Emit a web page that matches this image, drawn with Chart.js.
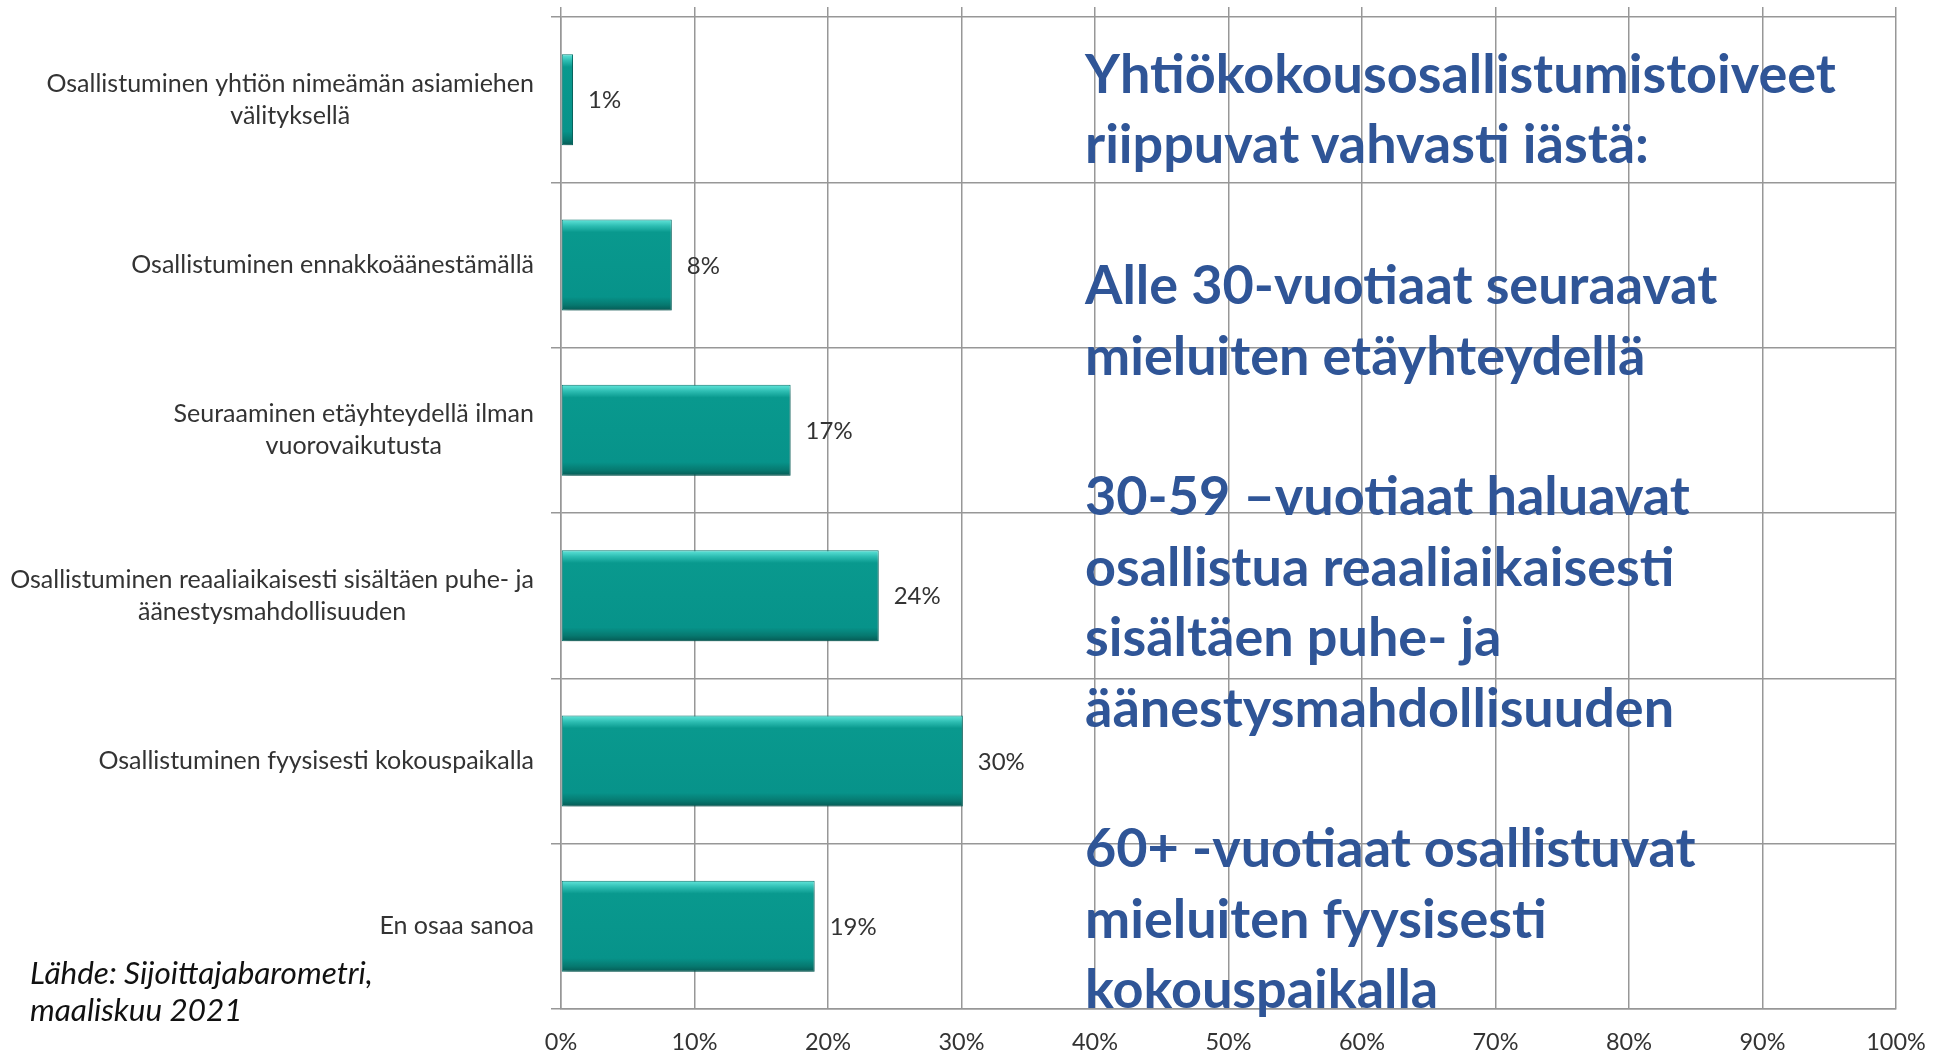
<!DOCTYPE html>
<html><head><meta charset="utf-8">
<script src="https://cdn.jsdelivr.net/npm/chart.js@4.4.1/dist/chart.umd.min.js"></script>
<style>
html,body{margin:0;padding:0;background:#fff;width:1934px;height:1056px;overflow:hidden}
#wrap{position:absolute;left:0;top:0;width:1934px;height:1056px}
.txt{position:absolute;white-space:pre;margin:0;padding:0}
</style></head><body>
<div id="wrap"><canvas id="c"></canvas></div>
<script>
// ---- data ----
const categories = [
  ["Osallistuminen yhtiön nimeämän asiamiehen", "välityksellä"],
  ["Osallistuminen ennakkoäänestämällä"],
  ["Seuraaminen etäyhteydellä ilman", "vuorovaikutusta"],
  ["Osallistuminen reaaliaikaisesti sisältäen puhe- ja", "äänestysmahdollisuuden"],
  ["Osallistuminen fyysisesti kokouspaikalla"],
  ["En osaa sanoa"]
];
const values = [0.9, 8.3, 17.2, 23.8, 30.1, 19.0];
const valueLabels = ["1%", "8%", "17%", "24%", "30%", "19%"];
const xTicks = [0, 10, 20, 30, 40, 50, 60, 70, 80, 90, 100];
const xTickLabels = ["0%", "10%", "20%", "30%", "40%", "50%", "60%", "70%", "80%", "90%", "100%"];
const headline = [
  "Yhtiökokousosallistumistoiveet",
  "riippuvat vahvasti iästä:",
  "",
  "Alle 30-vuotiaat seuraavat",
  "mieluiten etäyhteydellä",
  "",
  "30-59 –vuotiaat haluavat",
  "osallistua reaaliaikaisesti",
  "sisältäen puhe- ja",
  "äänestysmahdollisuuden",
  "",
  "60+ -vuotiaat osallistuvat",
  "mieluiten fyysisesti",
  "kokouspaikalla"
];
const sourceLines = ["Lähde: Sijoittajabarometri,", "maaliskuu 2021"];

// ---- styling ----
const FAM = "Lato, 'Open Sans', 'DejaVu Sans', sans-serif";
const gridColor = "#979797";
const labelColor = "#333333";
const blue = "#2F5597";

const mctx = document.createElement("canvas").getContext("2d");
function fitSize(text, style, target) {
  mctx.font = style + " 100px " + FAM;
  return 100 * target / mctx.measureText(text).width;
}
function metrics(style, size) {
  mctx.font = style + " " + size + "px " + FAM;
  const m = mctx.measureText("Hgåy");
  return { a: m.fontBoundingBoxAscent, d: m.fontBoundingBoxDescent };
}
function placeText(text, style, size, x, baseline, color) {
  const m = metrics(style, size);
  const d = document.createElement("div");
  d.className = "txt";
  d.textContent = text;
  d.style.font = style + " " + size + "px " + FAM;
  d.style.lineHeight = (m.a + m.d) + "px";
  d.style.left = x + "px";
  d.style.top = (baseline - m.a) + "px";
  d.style.color = color;
  document.body.appendChild(d);
}

const catSize = fitSize("Osallistuminen reaaliaikaisesti sisältäen puhe- ja", "normal", 524);
const valSize = fitSize("30%", "normal", 47);
const tickSize = fitSize("40%", "normal", 46);
const headSize = fitSize("Yhtiökokousosallistumistoiveet", "bold", 751);
const srcSize = fitSize("Lähde: Sijoittajabarometri,", "italic", 343);

headline.forEach((t, i) => { if (t) placeText(t, "bold", headSize, 1085, 93 + i * 70.4, blue); });
sourceLines.forEach((t, i) => placeText(t, "italic", srcSize, 30, 984 + i * 37, "#111"));

const barPct = 0.55;
function barFill(ctx) {
  const chart = ctx.chart, ys = chart.scales && chart.scales.y, ca = chart.chartArea;
  if (!ys || !ca || ctx.type !== "data") return "#08968c";
  const yc = ys.getPixelForValue(ctx.dataIndex);
  const h = (ca.bottom - ca.top) / categories.length * barPct;
  const g = chart.ctx.createLinearGradient(0, yc - h / 2, 0, yc + h / 2);
  g.addColorStop(0, "#62e6db");
  g.addColorStop(0.07, "#2dbdb2");
  g.addColorStop(0.14, "#09998e");
  g.addColorStop(0.85, "#07938a");
  g.addColorStop(0.94, "#06786f");
  g.addColorStop(1, "#055a54");
  return g;
}

const barDeco = {
  id: "barDeco",
  beforeDatasetsDraw(chart) {
    const c = chart.ctx; c.save();
    c.shadowColor = "rgba(0,0,0,0.30)"; c.shadowBlur = 7; c.shadowOffsetX = 2; c.shadowOffsetY = 5;
  },
  afterDatasetsDraw(chart) {
    const c = chart.ctx; c.restore();
    const meta = chart.getDatasetMeta(0);
    c.save();
    c.font = valSize + "px " + FAM; c.fillStyle = labelColor;
    c.textAlign = "left"; c.textBaseline = "middle";
    meta.data.forEach((bar, i) => c.fillText(valueLabels[i], bar.x + 15, bar.y + 1));
    c.restore();
  }
};

const catLabels = {
  id: "catLabels",
  afterDraw(chart) {
    const c = chart.ctx, ys = chart.scales.y, ca = chart.chartArea;
    c.save();
    c.font = catSize + "px " + FAM; c.fillStyle = labelColor;
    c.textAlign = "center"; c.textBaseline = "middle";
    const right = ca.left - 27, lh = 32;
    categories.forEach((lines, i) => {
      const y = ys.getPixelForValue(i);
      const w = Math.max(...lines.map(l => c.measureText(l).width));
      const cx = right - w / 2;
      lines.forEach((l, j) => c.fillText(l, cx, y + (j - (lines.length - 1) / 2) * lh));
    });
    c.restore();
  }
};

new Chart(document.getElementById("c"), {
  type: "bar",
  data: {
    labels: categories,
    datasets: [{
      data: values,
      backgroundColor: barFill,
      borderColor: "#0a7a72",
      borderWidth: 1,
      borderSkipped: false,
      categoryPercentage: barPct,
      barPercentage: 1
    }]
  },
  options: {
    indexAxis: "y",
    responsive: true,
    maintainAspectRatio: false,
    animation: false,
    layout: { padding: { top: 7, right: 38, left: 0, bottom: 0 } },
    plugins: { legend: { display: false }, tooltip: { enabled: false } },
    scales: {
      x: {
        type: "linear", position: "bottom", min: 0, max: 100,
        afterFit(s) { s.height = 47; s.paddingLeft = 0; s.paddingRight = 0; },
        ticks: {
          stepSize: 10, autoSkip: false, maxRotation: 0, padding: 19,
          color: labelColor, font: { family: FAM, size: tickSize },
          callback: v => { const k = xTicks.indexOf(v); return k >= 0 ? xTickLabels[k] : ""; }
        },
        grid: { color: gridColor, lineWidth: 1.5, drawTicks: false },
        border: { color: gridColor, width: 1.5 }
      },
      x2: {
        type: "linear", position: "top", min: 0, max: 100,
        afterFit(s) { s.height = 10; s.paddingLeft = 0; s.paddingRight = 0; },
        ticks: { display: false, stepSize: 10 },
        grid: { color: gridColor, lineWidth: 1.5, drawOnChartArea: false, drawTicks: true, tickLength: 10 },
        border: { display: false }
      },
      y: {
        type: "category",
        afterFit(s) { s.width = 561; },
        ticks: { display: false },
        grid: { color: gridColor, lineWidth: 1.5, drawTicks: true, tickLength: 10, offset: true },
        border: { color: gridColor, width: 1.5 }
      }
    }
  },
  plugins: [barDeco, catLabels]
});
</script>
</body></html>
